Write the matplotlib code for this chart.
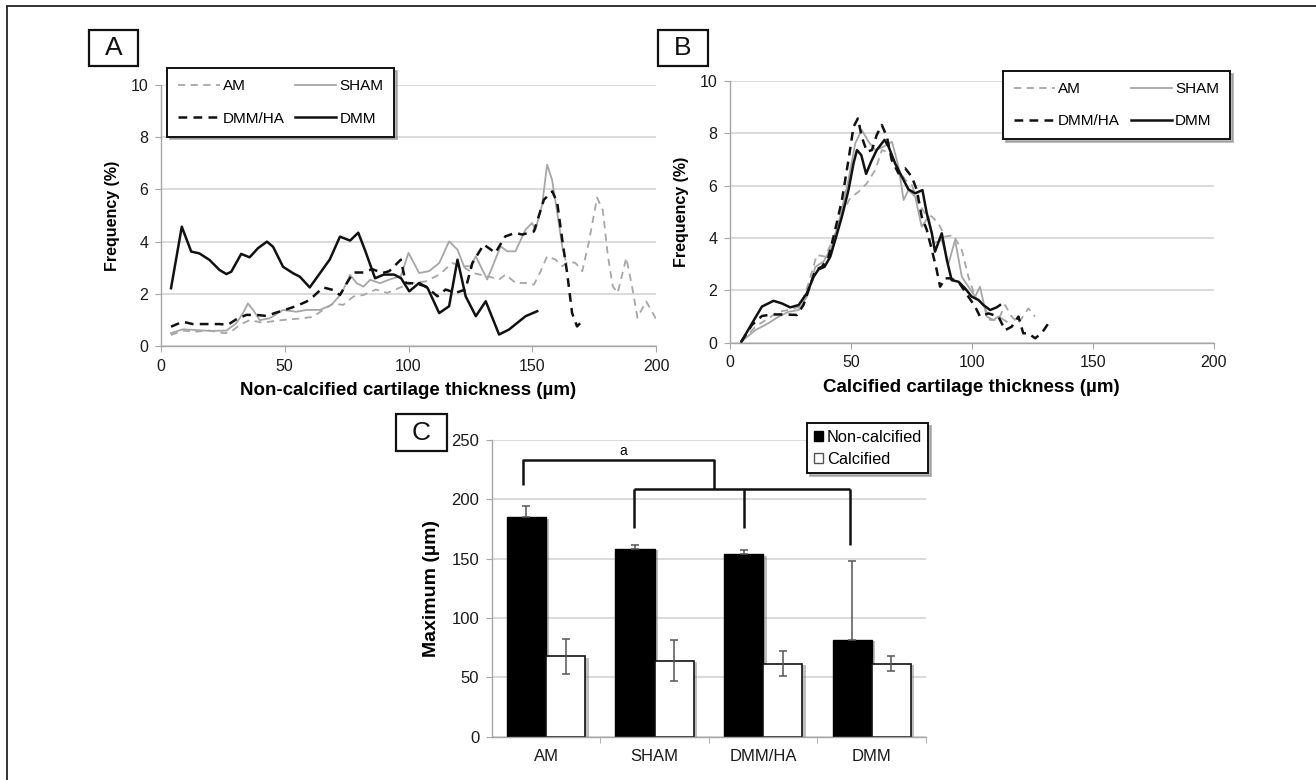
import matplotlib
matplotlib.use("Agg")
import matplotlib.pyplot as plt
import matplotlib.patheffects as pe
from matplotlib.patches import Rectangle, Patch
from matplotlib.lines import Line2D
import numpy as np

plt.rcParams['font.family'] = ['Liberation Sans', 'DejaVu Sans']

W, H = 1316, 780

#--------------------------------------------#
# Panel A : non-calcified thickness (%)
#--------------------------------------------#
a_am_x = [4, 8.8, 14.2, 19.6, 25.7, 28.4, 31.8, 35.8, 41.2, 46.6, 52, 57.4, 61.5, 65.5, 69.6,
          73.6, 77.7, 81.8, 86.8, 91.5, 96.2, 101.6, 107, 112.4, 117.7, 121.8, 126, 131.9,
          136.6, 139.2, 143.3, 147.3, 150.7, 153.4, 156, 159.4, 162.1, 164.8, 167.5, 170.2,
          172.8, 176.2, 178.5, 180.5, 182.5, 184.5, 188, 190.3, 192.5, 196, 200]
a_am_y = [0.43, 0.6, 0.56, 0.6, 0.5, 0.56, 0.82, 1.0, 0.9, 0.98, 1.03, 1.07, 1.13, 1.39, 1.64,
          1.58, 1.9, 1.96, 2.17, 2.04, 2.23, 2.42, 2.48, 2.74, 3.18, 3.06, 2.8, 2.68,
          2.55, 2.74, 2.42, 2.42, 2.36, 2.87, 3.44, 3.31, 3.06, 3.25, 3.18, 2.87,
          3.95, 5.68, 5.2, 3.5, 2.3, 2.04, 3.38, 2.3, 1.09, 1.72, 1.05]

a_sham_x = [4, 8.8, 14.2, 19.6, 26.4, 30.4, 33.1, 35.1, 37.2, 39.9, 43.9, 49.3, 54.7, 58.8,
            64.2, 68.9, 73, 76.4, 79.1, 81.8, 84.5, 88.5, 92.2, 96.9, 100, 104.3, 108.3,
            112.4, 116.4, 119.8, 122.4, 125.1, 127.2, 129.8, 131.8, 134.5, 137.2, 139.9,
            143.2, 147.3, 149.9, 151.3, 154, 156, 158, 160.1, 162.1, 163.4]
a_sham_y = [0.5, 0.65, 0.62, 0.59, 0.6, 0.88, 1.26, 1.64, 1.39, 1.0, 1.07, 1.39, 1.32, 1.39,
            1.39, 1.58, 2.03, 2.73, 2.41, 2.28, 2.54, 2.41, 2.55, 2.68, 3.57, 2.8, 2.87,
            3.18, 4.01, 3.69, 3.06, 3.06, 3.44, 2.93, 2.55, 3.18, 3.82, 3.63,
            3.63, 4.46, 4.71, 4.46, 5.41, 6.94, 6.37, 5.1, 3.82, 3.31]

a_dmmha_x = [4.05, 8.8, 12.8, 18.2, 23.6, 27, 30.4, 34.5, 38.5, 42.6, 46.6, 50.7, 54.7, 58.8,
             61.5, 65.5, 69.6, 72.3, 75, 77.7, 81.8, 85.3, 89.5, 92.2, 96.9, 98.9, 103, 107,
             111.7, 115, 119, 123, 125.8, 130.4, 135.1, 139.1, 143.1, 146, 150.7, 154.7,
             158.1, 160.1, 162.1, 164.1, 166.1, 168.1, 170.8]
a_dmmha_y = [0.75, 0.94, 0.85, 0.85, 0.85, 0.82, 1.03, 1.2, 1.2, 1.16, 1.29, 1.41, 1.54, 1.71,
             1.9, 2.25, 2.15, 1.96, 2.4, 2.82, 2.82, 2.95, 2.8, 2.87, 3.31, 2.42, 2.4, 2.29,
             1.91, 2.17, 2.04, 2.17, 3.18, 3.89, 3.57, 4.2, 4.33, 4.27, 4.39, 5.6,
             5.92, 5.48, 4.08, 2.8, 1.27, 0.76, 1.02]

a_dmm_x = [4.05, 8.4, 12.2, 15.5, 19.6, 23.6, 26.4, 28.4, 32.4, 35.8, 39.2, 42.8, 45.3, 49.3,
           53.4, 56.1, 60.1, 64.2, 68.2, 72.3, 76.4, 79.7, 82.4, 86.5, 90, 94.2, 97, 100.3,
           104.3, 107.7, 112.4, 116.4, 119.8, 123.1, 127.2, 131.2, 136.6, 140.6, 147.3, 152]
a_dmm_y = [2.22, 4.57, 3.62, 3.55, 3.3, 2.92, 2.76, 2.85, 3.53, 3.4, 3.75, 4.0, 3.8, 3.04,
           2.79, 2.66, 2.25, 2.79, 3.32, 4.19, 4.04, 4.34, 3.68, 2.6, 2.74, 2.74, 2.6, 2.1,
           2.42, 2.23, 1.27, 1.53, 3.31, 1.91, 1.15, 1.72, 0.45, 0.64, 1.15, 1.34]

#--------------------------------------------#
# Panel B : calcified thickness (%)
#--------------------------------------------#
b_am_x = [4.7, 10.5, 15.8, 20, 24.2, 29.1, 32.5, 35.9, 39.4, 42.8, 46.3, 49.7, 53.2, 56.6,
          60.1, 62.8, 66.3, 69, 72.5, 75.2, 78, 80.7, 83.5, 86.2, 89, 92.4, 95.9, 98.6,
          101.4, 104.8, 107.6, 111, 113.8, 116.5, 119.3, 123.4, 126.2]
b_am_y = [0.04, 0.61, 0.93, 1.18, 1.25, 1.38, 2.27, 3.35, 3.29, 3.99, 4.94, 5.52, 5.77, 6.09,
          6.6, 7.36, 7.24, 6.73, 6.22, 6.03, 5.32, 4.94, 4.82, 4.56, 4.05, 4.11, 3.54, 2.52,
          1.76, 1.44, 0.87, 0.87, 1.44, 1.0, 0.74, 1.31, 1.0]

b_sham_x = [4.7, 10.5, 15.8, 20, 24.2, 28.4, 31.8, 35.3, 38.7, 42.1, 45.6, 49, 51.8, 54.5,
            57.3, 60.1, 63.5, 67, 69.7, 71.8, 73.8, 76.6, 79.3, 82.1, 84.2, 87.6, 90.4,
            93.1, 95.9, 98.6, 101.4, 103.4, 106.2, 108.9, 111, 114.5]
b_sham_y = [0.04, 0.48, 0.74, 0.99, 1.18, 1.25, 1.76, 2.9, 3.1, 3.67, 4.82, 6.22, 7.62, 8.13,
            7.68, 7.36, 7.49, 7.68, 6.73, 5.45, 5.83, 5.58, 4.43, 4.82, 3.8, 3.92, 3.03,
            3.92, 2.52, 2.14, 1.76, 2.14, 1.0, 0.87, 1.0, 0.8]

b_dmmha_x = [4.7, 9.1, 13.2, 17.4, 22.2, 27.7, 30.4, 32.5, 35.3, 38, 40.8, 43.5, 46.3, 49,
             51.1, 52.9, 54.5, 56.6, 58.7, 60.7, 62.8, 64.9, 66.9, 69.7, 72.5, 75.2, 77.3,
             79.3, 81.4, 83.5, 85.5, 86.9, 89, 91, 94.5, 98.6, 101.4, 103.4, 106.9, 111,
             113.8, 116.5, 119.3, 121.3, 123.4, 126.2, 128.9, 131.7]
b_dmmha_y = [0.04, 0.68, 1.02, 1.08, 1.08, 1.06, 1.44, 2.01, 2.78, 2.9, 3.29, 4.31, 5.45, 6.98,
             8.25, 8.57, 7.87, 7.3, 7.36, 7.94, 8.32, 7.87, 6.98, 6.47, 6.66, 6.34, 5.83,
             4.82, 4.31, 3.54, 2.78, 2.14, 2.46, 2.46, 2.33, 1.76, 1.38, 1.0, 1.12, 1.0,
             0.48, 0.61, 1.0, 0.36, 0.36, 0.17, 0.36, 0.74]

b_dmm_x = [4.7, 9.1, 13.2, 18, 21.5, 24.9, 28.4, 31.8, 34.6, 36.6, 39.1, 41.5, 43.5, 46.3, 49,
           51.1, 52.5, 54.3, 56.3, 58.4, 60.7, 63.9, 65.6, 68.3, 71.1, 73.8, 76.6, 79.6,
           81.4, 83.5, 84.8, 87.6, 89.7, 91.7, 94.5, 97.2, 100, 102.8, 104.8, 107.6, 110.3,
           111.7]
b_dmm_y = [0.04, 0.74, 1.38, 1.6, 1.5, 1.35, 1.44, 1.89, 2.52, 2.8, 2.9, 3.29, 3.92, 4.82,
           5.83, 6.85, 7.36, 7.17, 6.45, 6.92, 7.36, 7.75, 7.49, 6.85, 6.34, 5.86, 5.71,
           5.83, 4.94, 4.18, 3.48, 4.18, 3.16, 2.39, 2.33, 2.08, 1.76, 1.63, 1.44, 1.25,
           1.35, 1.44]

#--------------------------------------------#
# Panel C : maximum thickness
#--------------------------------------------#
groups = ['AM', 'SHAM', 'DMM/HA', 'DMM']
noncalc = [184.7, 158.5, 153.7, 81.6]
noncalc_err = [9.6, 2.8, 4.0, 66.5]
calc = [67.6, 64.2, 61.4, 61.4]
calc_err = [14.6, 17.0, 10.4, 6.3]

GRAY = '#a6a6a6'
GRID = '#d4d4d4'


def fig_rect(x0, y0, x1, y1):
    # pixel box (top-left origin) -> figure fraction [l, b, w, h]
    return [x0 / W, 1 - y1 / H, (x1 - x0) / W, (y1 - y0) / H]


def style_axes(ax, tsize):
    for s in ['top', 'right']:
        ax.spines[s].set_visible(False)
    for s in ['left', 'bottom']:
        ax.spines[s].set_color(GRAY)
        ax.spines[s].set_linewidth(1.0)
    ax.grid(axis='y', color=GRID, lw=1.2, zorder=0)
    ax.set_axisbelow(True)
    ax.tick_params(direction='out', length=4, color=GRAY, labelsize=tsize,
                   labelcolor='#1a1a1a', pad=5)


def panel_box(x0, y0, x1, y1, letter):
    fig.add_artist(Rectangle((x0 / W, 1 - y1 / H), (x1 - x0) / W, (y1 - y0) / H,
                             transform=fig.transFigure, fill=False, ec='#111111', lw=1.6))
    fig.text((x0 + x1) / 2 / W, 1 - (y0 + y1) / 2 / H, letter, ha='center', va='center',
             fontsize=19, color='#111111')


def freq_panel(ax, am, sham, dmmha, dmm, xtitle):
    style_axes(ax, 11.5)
    ax.plot(am[0], am[1], color=GRAY, lw=1.3, dashes=(4, 3), label='AM')
    ax.plot(sham[0], sham[1], color=GRAY, lw=1.3, label='SHAM')
    ax.plot(dmmha[0], dmmha[1], color='#111111', lw=1.8, dashes=(3.5, 2.5), label='DMM/HA')
    ax.plot(dmm[0], dmm[1], color='#111111', lw=1.8, label='DMM')
    ax.set_xlim(0, 200)
    ax.set_ylim(0, 10)
    ax.set_xticks([0, 50, 100, 150, 200])
    ax.set_yticks([0, 2, 4, 6, 8, 10])
    ax.set_ylabel('Frequency (%)', fontsize=11.5, fontweight='bold', labelpad=8)
    ax.set_xlabel(xtitle, fontsize=13.5, fontweight='bold', labelpad=6)


def freq_legend(ax, x, y):
    h = [Line2D([], [], color=GRAY, lw=1.3, dashes=(4, 3)),
         Line2D([], [], color='#111111', lw=1.8, dashes=(3.5, 2.5)),
         Line2D([], [], color=GRAY, lw=1.3),
         Line2D([], [], color='#111111', lw=1.8)]
    leg = ax.legend(h, ['AM', 'DMM/HA', 'SHAM', 'DMM'], ncol=2, loc='upper left',
                    bbox_to_anchor=(x / W, 1 - y / H), bbox_transform=fig.transFigure,
                    borderaxespad=0, fontsize=11, fancybox=False,
                    shadow={'color': '0.55', 'alpha': 0.6},
                    framealpha=1, edgecolor='#111111', handlelength=2.7, handletextpad=0.2,
                    columnspacing=0.7, labelspacing=1.2, borderpad=0.72)
    leg.get_frame().set_linewidth(1.4)


fig = plt.figure(figsize=(W / 100, H / 100), dpi=100)

# outer frame (top and left edges)
fig.add_artist(Line2D([7 / W, 1], [1 - 6 / H, 1 - 6 / H], transform=fig.transFigure,
                      color='#333333', lw=1.4))
fig.add_artist(Line2D([7 / W, 7 / W], [1 - 6 / H, 0], transform=fig.transFigure,
                      color='#333333', lw=1.4))

axA = fig.add_axes(fig_rect(161, 84.6, 656, 346.3))
freq_panel(axA, (a_am_x, a_am_y), (a_sham_x, a_sham_y), (a_dmmha_x, a_dmmha_y),
           (a_dmm_x, a_dmm_y), 'Non-calcified cartilage thickness (\u00b5m)')
freq_legend(axA, 167.3, 68.3)

axB = fig.add_axes(fig_rect(730, 81, 1213.5, 342.7))
freq_panel(axB, (b_am_x, b_am_y), (b_sham_x, b_sham_y), (b_dmmha_x, b_dmmha_y),
           (b_dmm_x, b_dmm_y), 'Calcified cartilage thickness (\u00b5m)')
freq_legend(axB, 1002.8, 71)

# bar chart
axC = fig.add_axes(fig_rect(491.7, 440, 926, 736.7))
style_axes(axC, 12)
xpos = np.arange(len(groups))
bw = 0.36
shadow = [pe.withSimplePatchShadow(offset=(2.5, -1), shadow_rgbFace='0.45', alpha=0.45)]
axC.bar(xpos - bw / 2, noncalc, bw, color='black', edgecolor='black', lw=1, zorder=2,
        path_effects=shadow)
axC.bar(xpos + bw / 2, calc, bw, color='white', edgecolor='#111111', lw=1.2, zorder=2,
        path_effects=shadow)
axC.errorbar(xpos - bw / 2, noncalc, yerr=[np.zeros(len(groups)), noncalc_err], fmt='none',
             ecolor='#555555', elinewidth=1.1, capsize=3, capthick=1.1, zorder=3)
axC.errorbar(xpos + bw / 2, calc, yerr=calc_err, fmt='none',
             ecolor='#555555', elinewidth=1.1, capsize=3, capthick=1.1, zorder=3)
axC.set_xlim(-0.5, 3.5)
axC.set_ylim(0, 250)
axC.set_yticks([0, 50, 100, 150, 200, 250])
axC.set_xticks(xpos)
axC.set_xticklabels(groups)
axC.set_xticks([0.5, 1.5, 2.5, 3.5], minor=True)
axC.tick_params(axis='x', which='major', length=0, pad=9)
axC.tick_params(axis='x', which='minor', direction='out', length=4, color=GRAY)
axC.set_ylabel('Maximum (\u00b5m)', fontsize=14, fontweight='bold', labelpad=8)

# significance brackets
bk = dict(color='#111111', lw=1.8, solid_capstyle='butt', zorder=4, clip_on=False)
axC.plot([-0.21, -0.21, 1.55, 1.55], [212, 233.1, 233.1, 208.6], **bk)
axC.plot([0.81, 0.81], [176.2, 208.6], **bk)
axC.plot([0.81, 2.80], [208.6, 208.6], **bk)
axC.plot([1.82, 1.82], [176.2, 208.6], **bk)
axC.plot([2.80, 2.80], [161.3, 208.6], **bk)
axC.text(0.713, 241, 'a', ha='center', va='center', fontsize=10)

legC = axC.legend([Patch(facecolor='black', edgecolor='black'),
                   Patch(facecolor='white', edgecolor='#555555')],
                  ['Non-calcified', 'Calcified'], loc='upper left',
                  bbox_to_anchor=(807 / W, 1 - 423 / H), bbox_transform=fig.transFigure,
                  borderaxespad=0, fontsize=11.8, fancybox=False,
                  shadow={'color': '0.55', 'alpha': 0.6}, framealpha=1, edgecolor='#111111',
                  handlelength=0.6, handleheight=0.6, handletextpad=0.2, labelspacing=0.45,
                  borderpad=0.4)
legC.get_frame().set_linewidth(1.4)

panel_box(89, 30, 138, 66, 'A')
panel_box(658, 30, 708, 66, 'B')
panel_box(396, 414, 447, 451, 'C')

fig.savefig('out.png', dpi=100)
